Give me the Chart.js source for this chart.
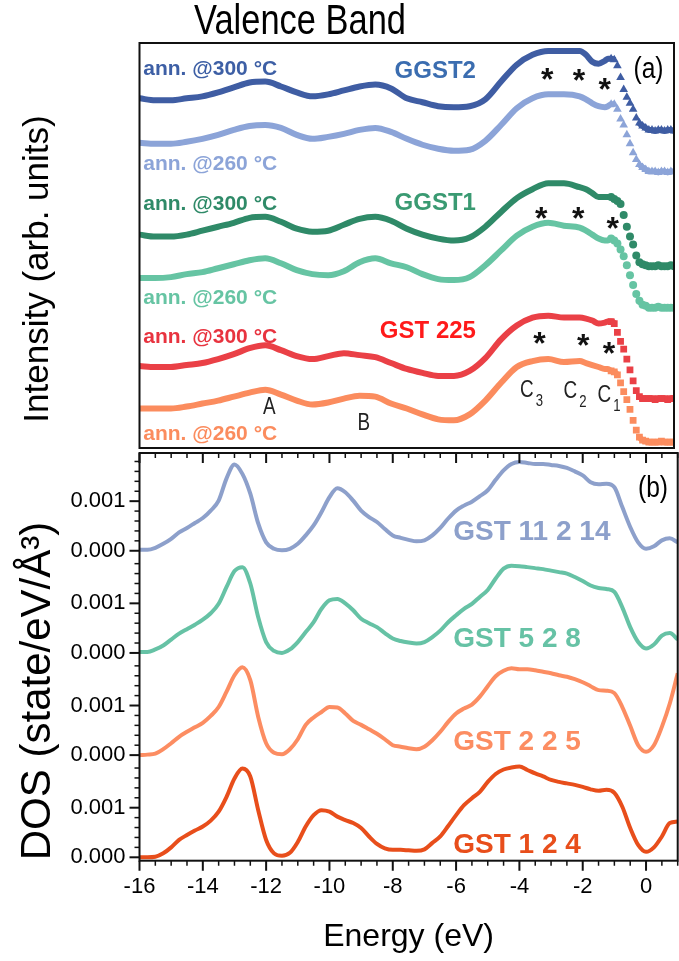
<!DOCTYPE html>
<html>
<head>
<meta charset="utf-8">
<title>Valence Band</title>
<script src="https://cdn.jsdelivr.net/npm/chart.js@4.4.1/dist/chart.umd.min.js"></script>
<style>
  html, body { margin: 0; padding: 0; background: #fff; }
  #wrap { position: relative; width: 679px; height: 961px; overflow: hidden; }
  #cvA { position: absolute; left: 0; top: 0; }
  #cvB { position: absolute; left: 0; top: 413px; }
</style>
</head>
<body>
<div id="wrap">
  <canvas id="cvA" width="679" height="453" style="width:679px;height:453px"></canvas>
  <canvas id="cvB" width="679" height="548" style="width:679px;height:548px"></canvas>
</div>
<script>
/* ============================
   DATA
   ============================ */

// (a) photoemission spectra, energy grid (eV) and intensities (arb. units, curves already offset)
const eSpec = [-16,-15.5,-15,-14.5,-14,-13.5,-13,-12.5,-12,-11.5,-11,-10.5,-10,-9.5,-9,-8.5,-8,-7.5,-7,-6.5,
  -6,-5.5,-5,-4.5,-4,-3.5,-3,-2.5,-2,-1.8,-1.6,-1.4,-1.2,
  -1.1,-1.0,-0.9,-0.8,-0.7,-0.6,-0.5,-0.4,-0.3,-0.2,-0.1,0,0.1,0.2,0.3,0.4,0.5,0.6,0.7,0.8,0.9,1.0];

const ggst2At300 = [35.4,35.2,35.2,35.4,35.6,36.0,36.5,37.0,37.1,36.6,36.0,35.6,35.8,36.2,36.6,36.8,36.4,35.4,35.0,34.6,
  34.5,34.6,35.3,37.1,38.8,39.8,40.2,40.2,40.2,39.8,39.1,38.9,39.2,
  39.4,39.4,39.3,38.7,37.5,36.3,35.5,34.9,34.3,33.4,32.9,32.6,32.4,32.2,32.2,32.1,32.2,32.2,32.1,32.2,32.2,32.1];
const ggst2At260 = [30.9,30.8,30.8,31.0,31.3,31.7,32.2,32.6,32.7,32.4,31.7,31.3,31.5,31.8,32.2,32.4,32.0,31.3,30.7,30.3,
  30.1,30.2,31.1,32.7,34.4,35.4,35.8,35.8,35.6,35.3,34.9,34.6,34.5,
  34.6,34.8,34.8,34.3,33.3,32.7,31.7,30.8,29.9,29.2,28.7,28.4,28.2,28.0,28.0,28.0,27.9,28.0,28.0,27.9,28.0,28.0];
const ggst1At300 = [21.6,21.4,21.4,21.6,22.0,22.4,22.8,23.3,23.4,22.9,22.2,21.9,22.0,22.6,23.2,23.4,23.0,22.2,21.6,21.2,
  21.0,21.3,22.4,23.9,25.3,26.2,26.8,26.8,26.4,26.2,25.8,25.4,25.4,
  25.4,25.4,25.2,25.0,24.7,23.6,22.4,21.4,20.6,19.5,18.8,18.6,18.5,18.4,18.4,18.4,18.5,18.4,18.4,18.4,18.5,18.4];
const ggst1At260 = [17.2,17.2,17.3,17.6,17.8,18.2,18.6,19.0,19.2,18.7,18.0,17.6,17.5,17.9,18.8,19.2,18.7,18.3,17.6,17.1,
  17.0,17.3,18.5,20.0,21.5,22.4,22.8,22.5,22.3,22.0,21.6,21.2,21.0,
  21.0,21.2,21.0,20.7,20.1,19.4,18.5,17.5,16.5,15.6,14.9,14.5,14.4,14.2,14.2,14.2,14.3,14.2,14.2,14.2,14.2,14.2];
const gst225At300 = [8.3,8.2,8.2,8.4,8.6,9.0,9.5,10.1,10.4,9.9,9.3,9.0,9.3,9.6,9.4,9.2,8.6,8.0,7.6,7.3,
  7.3,7.8,9.1,11.0,12.4,13.2,13.4,13.2,13.2,13.1,12.9,12.6,12.7,
  12.8,12.8,12.6,11.7,10.8,10.0,9.0,7.9,6.8,5.8,5.2,5.0,5.0,5.0,5.0,4.9,5.0,5.0,5.0,4.9,5.0,5.0];
const gst225At260 = [4.0,4.0,4.0,4.2,4.5,4.8,5.2,5.6,5.9,5.4,4.8,4.4,4.6,5.0,5.3,5.2,4.5,4.0,3.4,2.9,
  2.8,3.4,4.8,6.6,8.2,8.8,9.0,8.7,8.8,8.6,8.4,8.2,8.0,
  8.0,7.8,7.7,7.4,6.6,5.7,4.9,3.9,2.8,1.8,1.1,0.8,0.7,0.6,0.6,0.6,0.6,0.7,0.6,0.6,0.6,0.6];

// (b) calculated DOS, energy grid (eV) and values in 1e-3 state/eV/A^3
const eDos = [-16,-15.75,-15.5,-15.25,-15,-14.75,-14.5,-14.25,-14,-13.75,-13.5,-13.25,-13,-12.75,-12.5,-12.25,-12,-11.75,
  -11.5,-11.25,-11,-10.75,-10.5,-10.25,-10,-9.75,-9.5,-9.25,-9,-8.75,-8.5,-8.25,-8,-7.75,-7.5,-7.25,-7,-6.75,-6.5,-6.25,
  -6,-5.75,-5.5,-5.25,-5,-4.75,-4.5,-4.25,-4,-3.75,-3.5,-3.25,-3,-2.75,-2.5,-2.25,-2,-1.75,-1.5,-1.25,-1,-0.75,-0.5,-0.25,
  0,0.25,0.5,0.75,1];

const dosGst11214 = [0.02,0.02,0.06,0.14,0.24,0.37,0.46,0.56,0.66,0.81,1.01,1.46,1.74,1.55,1.15,0.55,0.17,0.04,0.01,0.04,
  0.14,0.31,0.51,0.78,1.08,1.26,1.18,1.01,0.81,0.68,0.58,0.44,0.31,0.26,0.22,0.19,0.21,0.31,0.46,0.65,
  0.81,0.91,0.99,1.10,1.22,1.43,1.62,1.75,1.79,1.77,1.75,1.75,1.73,1.71,1.67,1.60,1.52,1.38,1.34,1.35,
  1.28,0.88,0.48,0.17,0.04,0.09,0.21,0.25,0.17];
const dosGst528 = [0.02,0.02,0.07,0.15,0.27,0.39,0.48,0.57,0.67,0.80,0.99,1.33,1.65,1.73,1.40,0.72,0.22,0.04,0.00,0.07,
  0.22,0.42,0.62,0.89,1.06,1.09,1.00,0.86,0.69,0.60,0.52,0.40,0.29,0.24,0.21,0.19,0.22,0.32,0.45,0.62,
  0.76,0.89,0.99,1.13,1.27,1.50,1.70,1.76,1.75,1.73,1.71,1.69,1.66,1.63,1.60,1.53,1.45,1.36,1.31,1.29,
  1.23,0.92,0.52,0.22,0.09,0.17,0.35,0.40,0.27];
const dosGst225 = [0.00,0.01,0.03,0.12,0.24,0.37,0.47,0.56,0.65,0.79,0.97,1.28,1.61,1.77,1.51,0.77,0.24,0.05,0.02,0.12,
  0.32,0.61,0.76,0.87,0.97,0.96,0.84,0.69,0.61,0.52,0.43,0.32,0.20,0.17,0.14,0.12,0.17,0.30,0.47,0.67,
  0.84,0.94,1.02,1.18,1.39,1.59,1.70,1.75,1.73,1.73,1.71,1.68,1.65,1.61,1.58,1.53,1.47,1.39,1.31,1.30,
  1.25,0.97,0.59,0.20,0.07,0.20,0.57,1.04,1.65];
const dosGst124 = [0.00,0.00,0.01,0.08,0.20,0.35,0.45,0.54,0.62,0.74,0.92,1.22,1.59,1.79,1.63,0.95,0.35,0.08,0.03,0.09,
  0.31,0.62,0.85,0.95,0.92,0.82,0.75,0.69,0.59,0.42,0.27,0.18,0.15,0.15,0.14,0.13,0.16,0.29,0.42,0.63,
  0.85,1.05,1.19,1.32,1.52,1.68,1.77,1.81,1.83,1.76,1.69,1.63,1.56,1.52,1.49,1.46,1.42,1.37,1.34,1.36,
  1.30,1.02,0.59,0.25,0.11,0.20,0.42,0.69,0.72];

const dosStep = 0.00206;             // vertical offset between stacked DOS curves
const energyTicks = [-16,-14,-12,-10,-8,-6,-4,-2,0];
const dosTickLabels = ['0.000','0.001'];

/* ============================
   FONTS & HELPERS
   ============================ */
const SANS = '"Liberation Sans", Arial, sans-serif';
const NARROW = (() => {
  const c = document.createElement('canvas').getContext('2d');
  c.font = '40px monospace';
  const w0 = c.measureText('Energy 0.001').width;
  c.font = '40px "Liberation Sans Narrow", monospace';
  return c.measureText('Energy 0.001').width !== w0;
})();
const NARROW_FAM = NARROW ? '"Liberation Sans Narrow", ' + SANS : SANS;
const tickSize = NARROW ? 26 : 22;

function drawText(ctx, text, x, y, o) {
  ctx.save();
  ctx.translate(x, y);
  if (o.rotate) ctx.rotate(o.rotate);
  if (o.condensed && !NARROW) ctx.scale(0.82, 1);
  ctx.font = `${o.weight || 'normal'} ${o.size}px ${o.condensed ? NARROW_FAM : SANS}`;
  ctx.fillStyle = o.color || '#000';
  ctx.textAlign = o.align || 'left';
  ctx.textBaseline = o.baseline || 'alphabetic';
  ctx.fillText(text, 0, 0);
  ctx.restore();
}

/* ============================
   PANEL (a)
   ============================ */
const spectra = [
  { vals: ggst2At300, color: '#3f5da3', style: 'triangle', r: 5 },
  { vals: ggst2At260, color: '#8ca4d8', style: 'triangle', r: 5 },
  { vals: ggst1At300, color: '#2f8a68', style: 'circle', r: 4 },
  { vals: ggst1At260, color: '#66c4a3', style: 'circle', r: 4 },
  { vals: gst225At300, color: '#ea4046', style: 'rect', r: 4.8 },
  { vals: gst225At260, color: '#fb8c5e', style: 'rect', r: 4.8 }
];

const annLabels = [
  { t: 'ann. @300 °C', y: 37.8, c: '#3d5fa5' },
  { t: 'ann. @260 °C', y: 28.1, c: '#8ca4d8' },
  { t: 'ann. @300 °C', y: 24.1, c: '#2f8a68' },
  { t: 'ann. @260 °C', y: 14.6, c: '#66c4a3' },
  { t: 'ann. @300 °C', y: 10.6, c: '#e8333f' },
  { t: 'ann. @260 °C', y: 0.8, c: '#fb8c5e' }
];
const sampleNames = [
  { t: 'GGST2', y: 37.5, c: '#3b6db0' },
  { t: 'GGST1', y: 24.1, c: '#3a9a72' },
  { t: 'GST 225', y: 11.1, c: '#ff1a1a' }
];
const stars = [[-3.03,38.1],[-2.02,38.0],[-1.2,37.1],[-3.22,24.0],[-2.05,24.0],[-0.95,23.0],[-3.28,11.3],[-1.89,11.1],[-1.07,10.3]];
const peaks = [
  { t: 'A', x: -11.87, y: 4.1 }, { t: 'B', x: -8.87, y: 2.5 },
  { t: 'C', sub: '3', x: -3.68, y: 5.8 }, { t: 'C', sub: '2', x: -2.30, y: 5.7 }, { t: 'C', sub: '1', x: -1.22, y: 5.3 }
];

const panelAPlugin = {
  id: 'panelA',
  afterDatasetsDraw(chart) {
    const { ctx, chartArea: a, scales: { x, y } } = chart;
    // title and axis title
    drawText(ctx, 'Valence Band', 300, 34, { size: 42, condensed: true, align: 'center' });
    drawText(ctx, 'Intensity (arb. units)', 38, 269, { size: 35, align: 'center', baseline: 'middle', rotate: -Math.PI / 2 });
    annLabels.forEach(l => drawText(ctx, l.t, x.getPixelForValue(-15.88), y.getPixelForValue(l.y),
      { size: 21, weight: 'bold', color: l.c }));
    sampleNames.forEach(l => drawText(ctx, l.t, x.getPixelForValue(-5.3), y.getPixelForValue(l.y),
      { size: 24, weight: 'bold', color: l.c, align: 'right' }));
    stars.forEach(([sx, sy]) => drawText(ctx, '*', x.getPixelForValue(sx), y.getPixelForValue(sy) + 18,
      { size: 32, weight: 'bold', color: '#111', align: 'center' }));
    peaks.forEach(p => {
      const px = x.getPixelForValue(p.x), py = y.getPixelForValue(p.y);
      drawText(ctx, p.t, px, py, { size: 23, condensed: true, color: '#222', align: 'center', baseline: 'middle' });
      if (p.sub) drawText(ctx, p.sub, px + 9, py + 11, { size: 16, condensed: true, color: '#222', baseline: 'middle' });
    });
    drawText(ctx, '(a)', x.getPixelForValue(0.19), y.getPixelForValue(38.3), { size: 30, condensed: true, align: 'center', baseline: 'middle' });
    // frame
    ctx.save();
    ctx.strokeStyle = '#111';
    ctx.lineWidth = 2;
    ctx.strokeRect(a.left, a.top, a.right - a.left, a.bottom - a.top);
    ctx.restore();
  }
};

new Chart(document.getElementById('cvA'), {
  type: 'line',
  data: {
    datasets: spectra.map(s => ({
      data: eSpec.map((e, i) => ({ x: e, y: s.vals[i] })),
      borderColor: s.color,
      backgroundColor: s.color,
      borderWidth: 6,
      cubicInterpolationMode: 'monotone',
      pointStyle: s.style,
      pointRadius: c => (eSpec[c.dataIndex] >= -1.0 ? s.r : 0),
      pointBorderWidth: 0,
      segment: {
        borderColor: c => (eSpec[c.p0DataIndex] >= -1.0 && Math.abs(c.p1.y - c.p0.y) > 4.5 ? 'rgba(0,0,0,0)' : undefined)
      }
    }))
  },
  options: {
    responsive: false,
    animation: false,
    events: [],
    layout: { padding: { left: 139.5, right: 1.3, top: 43, bottom: 0 } },
    plugins: { legend: { display: false }, tooltip: { enabled: false } },
    scales: {
      x: { type: 'linear', min: -16, max: 1, display: false },
      y: { type: 'linear', min: 0, max: 41, display: false }
    }
  },
  plugins: [panelAPlugin]
});

/* ============================
   PANEL (b)
   ============================ */
const dosCurves = [
  { vals: dosGst11214, name: 'GST 11 2 14', color: '#8da0cb', level: 3, labelY: 0.006397 },
  { vals: dosGst528, name: 'GST 5 2 8', color: '#66c2a5', level: 2, labelY: 0.00424 },
  { vals: dosGst225, name: 'GST 2 2 5', color: '#fc8d62', level: 1, labelY: 0.002163 },
  { vals: dosGst124, name: 'GST 1 2 4', color: '#e84e1b', level: 0, labelY: 0.0000867 }
];

const panelBPlugin = {
  id: 'panelB',
  afterDatasetsDraw(chart) {
    const { ctx, chartArea: a, scales: { x, y } } = chart;
    dosCurves.forEach(d => drawText(ctx, d.name, x.getPixelForValue(-6.09), y.getPixelForValue(d.labelY),
      { size: 28, weight: 'bold', color: d.color }));
    drawText(ctx, '(b)', x.getPixelForValue(0.22), y.getPixelForValue(0.007425), { size: 30, condensed: true, align: 'center', baseline: 'middle' });
    drawText(ctx, 'DOS (state/eV/Å³)', 38, 278, { size: 42, align: 'center', baseline: 'middle', rotate: -Math.PI / 2 });

    ctx.save();
    ctx.strokeStyle = '#111';
    // x ticks: bottom (outward) and top (inward)
    for (let k = 0; k <= 34; k++) {
      const e = -16 + k * 0.5;
      const px = x.getPixelForValue(e);
      const major = k % 4 === 0;
      const len = major ? 10 : 5;
      ctx.lineWidth = major ? 2 : 1.5;
      ctx.beginPath();
      ctx.moveTo(px, a.bottom); ctx.lineTo(px, a.bottom + len);
      ctx.moveTo(px, a.top); ctx.lineTo(px, a.top + len);
      ctx.stroke();
    }
    // y ticks (left, outward)
    for (let lvl = 0; lvl < 4; lvl++) {
      for (let k = 0; k <= 9; k++) {
        const v = lvl * dosStep + k * 0.0002;
        const py = y.getPixelForValue(v);
        const major = k === 0 || k === 5;
        ctx.lineWidth = major ? 2 : 1.5;
        ctx.beginPath();
        ctx.moveTo(a.left, py); ctx.lineTo(a.left - (major ? 10 : 5), py);
        ctx.stroke();
      }
    }
    for (let k = 10; k <= 14; k++) {
      const v = 3 * dosStep + k * 0.0002;
      if (v > y.max) break;
      const py = y.getPixelForValue(v);
      ctx.lineWidth = 1.5;
      ctx.beginPath(); ctx.moveTo(a.left, py); ctx.lineTo(a.left - 5, py); ctx.stroke();
    }
    ctx.lineWidth = 2;
    ctx.strokeRect(a.left, a.top, a.right - a.left, a.bottom - a.top);
    ctx.restore();
  }
};

new Chart(document.getElementById('cvB'), {
  type: 'line',
  data: {
    datasets: dosCurves.map(d => ({
      data: eDos.map((e, i) => ({ x: e, y: d.vals[i] * 1e-3 + d.level * dosStep })),
      borderColor: d.color,
      borderWidth: 4,
      pointRadius: 0,
      cubicInterpolationMode: 'monotone'
    }))
  },
  options: {
    responsive: false,
    animation: false,
    events: [],
    layout: { padding: { left: 0, right: 1.3, top: 40, bottom: 0 } },
    plugins: { legend: { display: false }, tooltip: { enabled: false } },
    scales: {
      x: {
        type: 'linear', min: -16, max: 1,
        afterBuildTicks: s => { s.ticks = energyTicks.map(v => ({ value: v })); },
        afterFit: s => { s.height = 100.3; },
        grid: { display: false, drawTicks: true, tickLength: 10 },
        border: { display: false },
        ticks: { color: '#000', padding: 3, maxRotation: 0, font: { family: NARROW_FAM, size: tickSize } },
        title: { display: true, text: 'Energy (eV)', color: '#000', padding: { top: 0, bottom: 5 }, font: { family: NARROW_FAM, size: NARROW ? 37 : 32 } }
      },
      y: {
        type: 'linear', min: -0.0000685, max: 0.008151,
        afterBuildTicks: s => {
          s.ticks = [0, 1, 2, 3].flatMap(l => [l * dosStep, l * dosStep + 0.001]).map(v => ({ value: v }));
        },
        afterFit: s => { s.width = 139.5; },
        grid: { display: false, drawTicks: true, tickLength: 10 },
        border: { display: false },
        ticks: { color: '#000', padding: 4, font: { family: NARROW_FAM, size: tickSize },
          callback: (v, i) => dosTickLabels[i % 2] }
      }
    }
  },
  plugins: [panelBPlugin]
});
</script>
</body>
</html>
